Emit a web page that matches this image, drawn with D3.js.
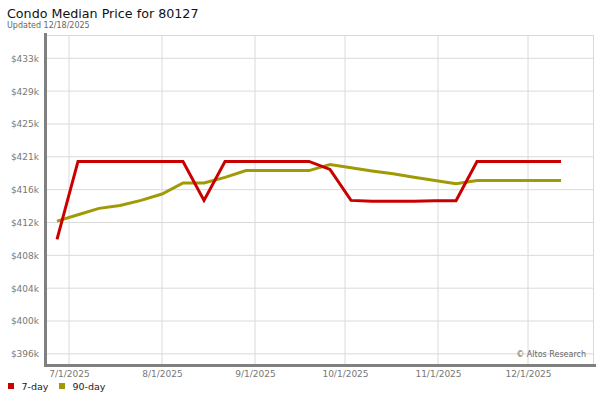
<!DOCTYPE html>
<head>
  <meta charset="utf-8">
  <script src="https://d3js.org/d3.v7.min.js"></script>
  <style>
    body { margin: 0; background: #fff; }
    text { font-family: "DejaVu Sans", sans-serif; }
  </style>
</head>

<body>
  <script>
    var width = 600,
      height = 400;

    // weekly dates
    var dates = ["2025-06-27", "2025-07-04", "2025-07-11", "2025-07-18", "2025-07-25",
      "2025-08-01", "2025-08-08", "2025-08-15", "2025-08-22", "2025-08-29",
      "2025-09-05", "2025-09-12", "2025-09-19", "2025-09-26", "2025-10-03",
      "2025-10-10", "2025-10-17", "2025-10-24", "2025-10-31", "2025-11-07",
      "2025-11-14", "2025-11-21", "2025-11-28", "2025-12-05", "2025-12-12"];

    var day7 = [410200, 420000, 420000, 420000, 420000, 420000, 420000, 415100, 420000, 420000,
      420000, 420000, 420000, 419000, 415100, 415000, 415000, 415000, 415050, 415050,
      420000, 420000, 420000, 420000, 420000];

    var day90 = [412500, 413300, 414100, 414450, 415100, 415900, 417300, 417300, 418000, 418850,
      418850, 418850, 418850, 419600, 419200, 418800, 418450, 418000, 417600, 417200,
      417600, 417600, 417600, 417600, 417600];

    var yTicks = [395800, 399930, 404060, 408190, 412320, 416450, 420580, 424710, 428840, 432970];
    var xTicks = ["2025-07-01", "2025-08-01", "2025-09-01", "2025-10-01", "2025-11-01", "2025-12-01"];

    var seriesNames = ["7-day", "90-day"];
    var colors = ["#c80000", "#a09a06"];

    var parse = d3.utcParse("%Y-%m-%d");

    var plot = { left: 47, right: 594, top: 35, bottom: 365 };

    var x = d3.scaleUtc()
      .domain([parse("2025-07-01"), parse("2025-12-01")])
      .range([69, 528]);

    var y = d3.scaleLinear()
      .domain([394400, 435900])
      .range([plot.bottom, plot.top]);

    var svg = d3.select("body").append("svg")
      .attr("width", width)
      .attr("height", height);

    // title
    svg.append("text")
      .attr("x", 7).attr("y", 18)
      .style("font-size", "12.7px")
      .style("fill", "#111")
      .text("Condo Median Price for 80127");
    svg.append("text")
      .attr("x", 7).attr("y", 28)
      .style("font-size", "8px")
      .style("fill", "#666")
      .text("Updated 12/18/2025");

    // grid
    var grid = svg.append("g").attr("class", "grid");
    grid.selectAll("line.h")
      .data(yTicks).enter().append("line")
      .attr("x1", plot.left).attr("x2", plot.right)
      .attr("y1", d => y(d)).attr("y2", d => y(d))
      .style("stroke", "#dadada");
    grid.selectAll("line.v")
      .data(xTicks).enter().append("line")
      .attr("x1", d => x(parse(d))).attr("x2", d => x(parse(d)))
      .attr("y1", plot.top).attr("y2", plot.bottom)
      .style("stroke", "#dadada");
    grid.append("line")
      .attr("x1", plot.left).attr("x2", plot.right)
      .attr("y1", plot.top + 0.5).attr("y2", plot.top + 0.5)
      .style("stroke", "#dadada");
    grid.append("line")
      .attr("x1", plot.right - 0.5).attr("x2", plot.right - 0.5)
      .attr("y1", plot.top).attr("y2", plot.bottom)
      .style("stroke", "#dadada");

    // axes
    var yAxis = svg.append("g")
      .attr("transform", "translate(" + (plot.left - 8) + ",0)")
      .call(d3.axisLeft(y).tickValues(yTicks).tickSize(0).tickPadding(0)
        .tickFormat(d => "$" + Math.round(d / 1000) + "k"));
    yAxis.select(".domain").remove();
    yAxis.selectAll("text")
      .style("font-size", "9px")
      .style("fill", "#777")
      .style("font-family", "DejaVu Sans, sans-serif");

    var xAxis = svg.append("g")
      .attr("transform", "translate(0," + (plot.bottom + 3) + ")")
      .call(d3.axisBottom(x).tickValues(xTicks.map(parse)).tickSize(0).tickPadding(3)
        .tickFormat(d3.utcFormat("%-m/%-d/%Y")));
    xAxis.select(".domain").remove();
    xAxis.selectAll("text")
      .style("font-size", "9px")
      .style("fill", "#777")
      .style("font-family", "DejaVu Sans, sans-serif");

    svg.append("line")
      .attr("x1", plot.left - 1.5).attr("x2", plot.left - 1.5)
      .attr("y1", plot.top - 2).attr("y2", plot.bottom + 2)
      .style("stroke", "#808080").style("stroke-width", 3);
    svg.append("line")
      .attr("x1", plot.left - 3).attr("x2", 596)
      .attr("y1", plot.bottom + 0.5).attr("y2", plot.bottom + 0.5)
      .style("stroke", "#808080").style("stroke-width", 3);

    // lines
    var line = d3.line()
      .x((d, i) => x(parse(dates[i])))
      .y(d => y(d));

    svg.selectAll("path.series")
      .data([day90, day7]).enter().append("path")
      .attr("class", "series")
      .attr("d", line)
      .style("fill", "none")
      .style("stroke", (d, i) => colors[1 - i])
      .style("stroke-width", 3)
      .style("stroke-linejoin", "miter");

    // watermark
    svg.append("text")
      .attr("x", 586).attr("y", 357)
      .attr("text-anchor", "end")
      .style("font-size", "8px")
      .style("fill", "#666")
      .text("\u00a9 Altos Research");

    // legend
    var legend = svg.selectAll("g.legend")
      .data(seriesNames).enter().append("g")
      .attr("class", "legend")
      .attr("transform", (d, i) => "translate(" + [8, 59][i] + ",383)");
    legend.append("rect")
      .attr("width", 6).attr("height", 6)
      .style("fill", (d, i) => colors[i]);
    legend.append("text")
      .attr("x", 13.5).attr("y", 6.5)
      .style("font-size", "9.5px")
      .style("fill", "#222")
      .text(d => d);
  </script>
</body>
